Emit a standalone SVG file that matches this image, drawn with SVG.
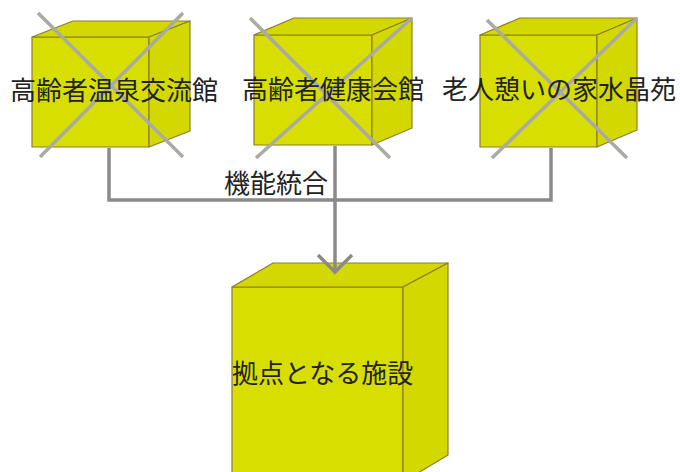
<svg xmlns="http://www.w3.org/2000/svg" width="680" height="472" viewBox="0 0 680 472">
<defs>
<style>
.face{fill:#d8df00;stroke:#8c7d2c;stroke-width:1.2;stroke-linejoin:round}
.side{fill:#d3d900;stroke:#8c7d2c;stroke-width:1.2;stroke-linejoin:round}
.cross{stroke:#aaaaa4;stroke-width:3.5;stroke-linecap:butt;fill:none}
.conn{stroke:#8a8a8a;stroke-width:3.5;fill:none}
.lbl{font-family:"Noto Sans CJK JP","Noto Sans CJK SC",sans-serif;font-size:26px;fill:#222}
</style>
</defs>
<rect width="680" height="472" fill="#ffffff"/>
<g id="node-onsen">
<rect class="face" x="32" y="37" width="117" height="110"/>
<polygon class="side" points="32,37 73,21 190,21 149,37"/>
<polygon class="side" points="149,37 190,21 190,131 149,147"/>
<line class="cross" x1="38" y1="13" x2="183" y2="157"/>
<line class="cross" x1="183" y1="13" x2="40" y2="157"/>
<text class="lbl" x="10" y="100">高齢者温泉交流館</text>
</g>
<g id="node-kenko">
<rect class="face" x="254" y="35" width="118" height="110"/>
<polygon class="side" points="254,35 294,18 412,18 372,35"/>
<polygon class="side" points="372,35 412,18 412,128 372,145"/>
<line class="cross" x1="250" y1="18" x2="390" y2="158"/>
<line class="cross" x1="412" y1="18" x2="256" y2="158"/>
<text class="lbl" x="242" y="99">高齢者健康会館</text>
</g>
<g id="node-suishoen">
<rect class="face" x="480" y="35" width="117" height="112"/>
<polygon class="side" points="480,35 520,18 637,18 597,35"/>
<polygon class="side" points="597,35 637,18 637,130 597,147"/>
<line class="cross" x1="487" y1="20" x2="627" y2="158"/>
<line class="cross" x1="637" y1="18" x2="492" y2="158"/>
<text class="lbl" x="442" y="99">老人憩いの家水晶苑</text>
</g>
<g id="node-kyoten">
<rect class="face" x="232" y="287" width="171" height="195"/>
<polygon class="side" points="232,287 273,263 448,263 403,287"/>
<polygon class="side" points="403,287 448,263 448,455 403,482"/>
<text class="lbl" x="232" y="383">拠点となる施設</text>
</g>
<g id="connectors">
<polyline class="conn" points="109,148 109,200 551,200 551,148"/>
<line class="conn" x1="335" y1="146" x2="335" y2="272"/>
<polyline class="conn" points="318,255 335,272 352,255"/>
<text class="lbl" x="224" y="193">機能統合</text>
</g>
</svg>
